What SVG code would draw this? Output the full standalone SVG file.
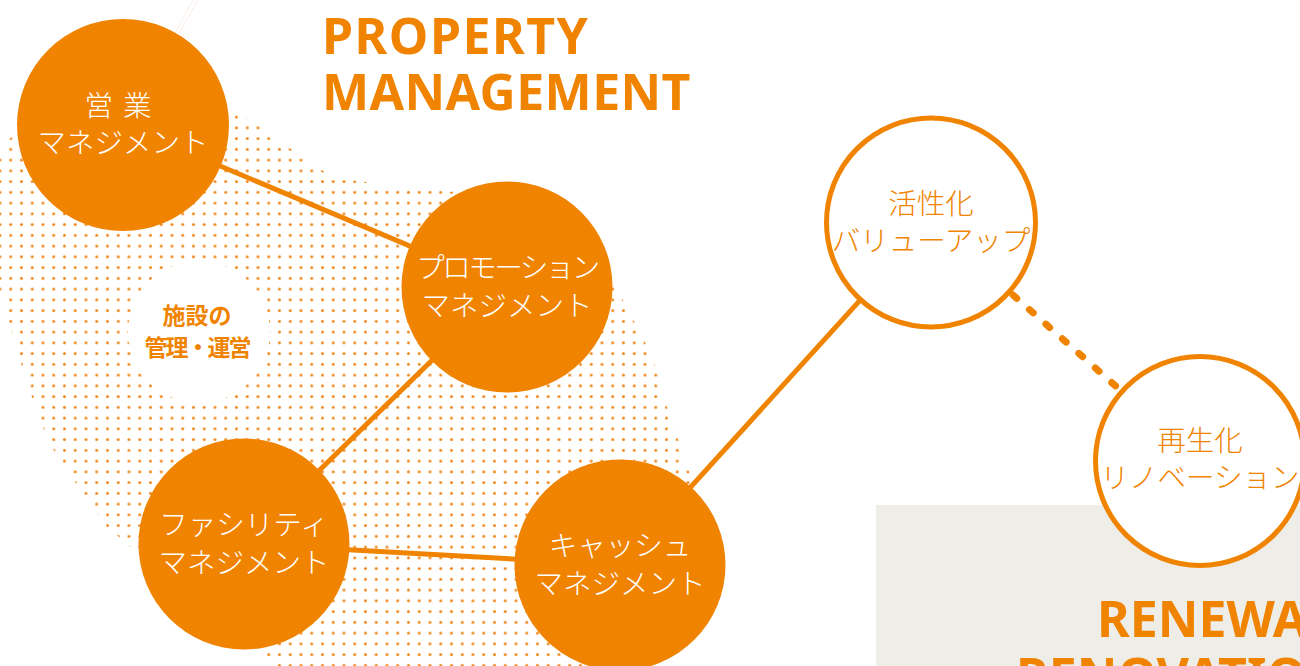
<svg xmlns="http://www.w3.org/2000/svg" width="1300" height="666" viewBox="0 0 1300 666">
  <defs>
    <pattern id="dots" patternUnits="userSpaceOnUse" x="-5.375" y="4.2" width="10.75" height="10.75">
      <circle cx="5.375" cy="5.375" r="1.5" fill="#f08a1e"/>
    </pattern>
    <style>
      .solid { fill: #f08300; }
      .ring { fill: #ffffff; stroke: #f08300; stroke-width: 5; }
      .conn { stroke: #f08300; stroke-width: 5; fill: none; }
      .dash { stroke: #f08300; stroke-width: 7; fill: none; stroke-linecap: round; stroke-dasharray: 5 17; }
      .wt { font-family: "Noto Sans CJK JP", "Noto Sans", sans-serif; font-weight: 300; font-size: 28.5px; fill: #ffffff; text-anchor: middle; }
      .ot { font-family: "Noto Sans CJK JP", "Noto Sans", sans-serif; font-weight: 300; font-size: 28.5px; fill: #f08300; text-anchor: middle; }
      .title { font-family: "Noto Sans", "Noto Sans CJK JP", sans-serif; font-weight: 700; font-size: 50px; fill: #f08300; }
      .sub { font-family: "Noto Sans CJK JP", sans-serif; font-weight: 700; font-size: 23px; fill: #f08300; text-anchor: middle; }
    </style>
  </defs>

  <rect width="1300" height="666" fill="#ffffff"/>

  <!-- background decoration -->
  <g id="background">
    <rect x="876" y="505" width="424" height="161" fill="#eeede8"/>
    <path d="M 15,132 L 60,118 L 120,110 L 200,108 L 236,113 L 258,124 L 268,136 L 288,147 L 304,158 L 318,169 L 350,180 L 420,189 L 455,192 L 540,215 L 600,260 L 615,285 L 628,310 L 645,342 L 657,370 L 662,396 L 672,418 L 680,446 L 690,474 L 705,520 L 700,600 L 645,668 L 280,668 L 200,610 L 133,549 L 105,525 L 85,495 L 62,465 L 48,440 L 36,410 L 26,378 L 16,348 L 6,310 L 0,290 L -2,160 L 5,145 Z" fill="url(#dots)"/>
    <circle cx="199" cy="332" r="71" fill="#ffffff"/>
    <line x1="175" y1="33" x2="193" y2="0" stroke="#f8ebe6" stroke-width="1.2" stroke-dasharray="2 1"/>
    <line x1="179" y1="33" x2="198" y2="0" stroke="#f8ebe6" stroke-width="1.2" stroke-dasharray="2 1"/>
  </g>

  <g id="titles">
    <text class="title" x="322" y="54" letter-spacing="1.5">PROPERTY</text>
    <text class="title" x="322" y="110" letter-spacing="0.4">MANAGEMENT</text>
    <text class="title" x="1097" y="637">RENEWA</text>
    <text class="title" x="1016" y="694">RENOVATIO</text>
  </g>

  <g id="connectors">
    <line class="conn" x1="123" y1="125" x2="507" y2="287"/>
    <line class="conn" x1="507" y1="287" x2="244" y2="544"/>
    <line class="conn" x1="244" y1="544" x2="620" y2="565"/>
    <line class="conn" x1="620" y1="565" x2="931" y2="222"/>
    <line class="dash" x1="1013" y1="295" x2="1119" y2="389"/>
  </g>

  <g id="label-facility">
    <text class="sub" x="197" y="324">施設の</text>
    <text class="sub" x="197" y="356" letter-spacing="-2">管理・運営</text>
  </g>

  <g id="node-eigyo">
    <circle class="solid" cx="123" cy="125" r="106"/>
    <text class="wt" x="123" y="116" letter-spacing="10">営業</text>
    <text class="wt" x="123" y="153">マネジメント</text>
  </g>

  <g id="node-promotion">
    <circle class="solid" cx="507" cy="287" r="105.5"/>
    <text class="wt" x="507" y="278" letter-spacing="-2.5">プロモーション</text>
    <text class="wt" x="507" y="316">マネジメント</text>
  </g>

  <g id="node-facility">
    <circle class="solid" cx="244" cy="544" r="105.5"/>
    <text class="wt" x="244" y="535">ファシリティ</text>
    <text class="wt" x="244" y="573">マネジメント</text>
  </g>

  <g id="node-cash">
    <circle class="solid" cx="620" cy="565" r="105.5"/>
    <text class="wt" x="620" y="556">キャッシュ</text>
    <text class="wt" x="620" y="594">マネジメント</text>
  </g>

  <g id="node-valueup">
    <circle class="ring" cx="931" cy="222.5" r="104.5"/>
    <text class="ot" x="931" y="214">活性化</text>
    <text class="ot" x="931" y="251">バリューアップ</text>
  </g>

  <g id="node-renovation">
    <circle class="ring" cx="1200" cy="461" r="104.5"/>
    <text class="ot" x="1200" y="451">再生化</text>
    <text class="ot" x="1200" y="488">リノベーション</text>
  </g>
</svg>
